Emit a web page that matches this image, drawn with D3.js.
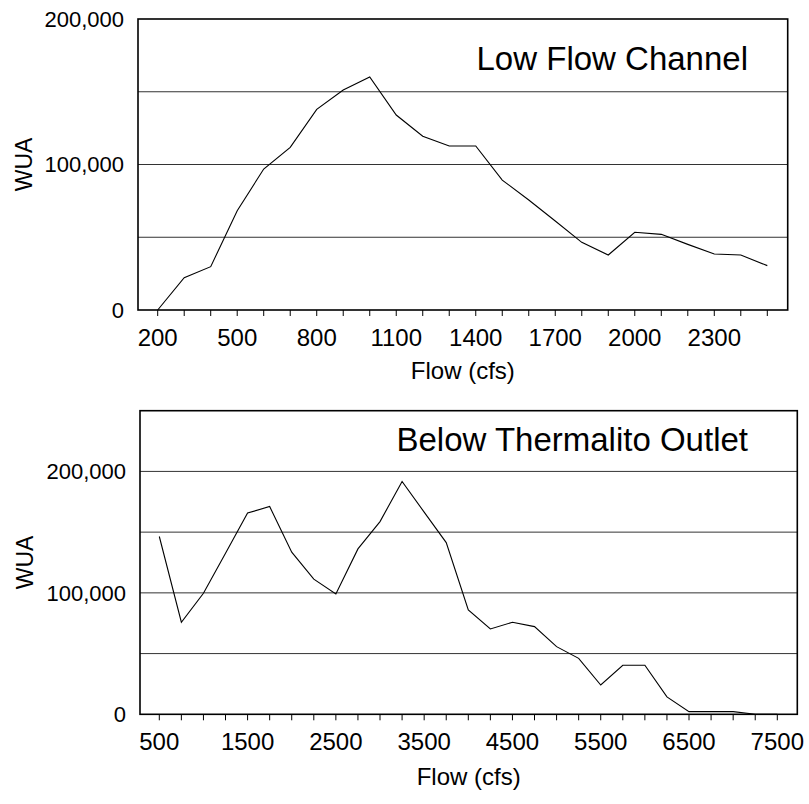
<!DOCTYPE html>
<html>
<head>
<meta charset="utf-8">
<script src="https://cdn.jsdelivr.net/npm/d3@7"></script>
<style>
  html, body { margin: 0; padding: 0; background: #fff; }
  svg { display: block; font-family: "Liberation Sans", Arial, sans-serif; }
</style>
</head>
<body>
<svg id="chart" width="809" height="804"></svg>
<script>
// ---- Data: Low Flow Channel ----
const lowFlow = [200, 300, 400, 500, 600, 700, 800, 900, 1000, 1100, 1200, 1300,
                 1400, 1500, 1600, 1700, 1800, 1900, 2000, 2100, 2200, 2300, 2400, 2500];
const lowWUA  = [0, 22200, 29800, 68200, 96900, 111800, 137900, 151200, 160100, 134000, 119400, 112700,
                 112700, 89300, 75600, 61200, 46500, 37800, 53400, 52000, 45100, 38500, 37800, 30500];
const lowTickLabels = [200, 500, 800, 1100, 1400, 1700, 2000, 2300];
const lowYLabels = [0, 100000, 200000];
const lowGrid = [50000, 100000, 150000];

// ---- Data: Below Thermalito Outlet ----
const btoFlow = [500, 750, 1000, 1250, 1500, 1750, 2000, 2250, 2500, 2750, 3000, 3250,
                 3500, 3750, 4000, 4250, 4500, 4750, 5000, 5250, 5500, 5750, 6000, 6250,
                 6500, 6750, 7000, 7250, 7500];
const btoWUA  = [146400, 75800, 99700, 132700, 165700, 171100, 133500, 111300, 99100, 136200, 158700, 191700,
                 166500, 141400, 86000, 70300, 75800, 72200, 55700, 46100, 24100, 40400, 40400, 14300,
                 2200, 2200, 2200, 0, 0];
const btoTickLabels = [500, 1500, 2500, 3500, 4500, 5500, 6500, 7500];
const btoYLabels = [0, 100000, 200000];
const btoGrid = [50000, 100000, 150000, 200000];

const svg = d3.select("#chart");
const fmt = d3.format(",");

function drawPanel(cfg) {
  const g = svg.append("g");
  const x = d3.scaleLinear().domain(cfg.xDom).range(cfg.xRange);
  const y = d3.scaleLinear().domain(cfg.yDom).range([cfg.bottom, cfg.top]);

  // gridlines
  g.selectAll("line.grid").data(cfg.grid).enter().append("line")
    .attr("x1", cfg.left).attr("x2", cfg.right)
    .attr("y1", d => y(d)).attr("y2", d => y(d))
    .attr("stroke", "#333").attr("stroke-width", 1);

  // data line
  const pts = cfg.xs.map((v, i) => [v, cfg.ys[i]]);
  g.append("path").datum(pts)
    .attr("fill", "none").attr("stroke", "#000").attr("stroke-width", 1.1)
    .attr("d", d3.line().x(d => x(d[0])).y(d => y(d[1])));

  // frame
  g.append("rect")
    .attr("x", cfg.left).attr("y", cfg.top)
    .attr("width", cfg.right - cfg.left).attr("height", cfg.bottom - cfg.top)
    .attr("fill", "none").attr("stroke", "#000").attr("stroke-width", 1.6);

  // x ticks
  const ticks = d3.range(cfg.xDom[0], cfg.xDom[1] + 1, cfg.tickStep);
  g.selectAll("line.xt").data(ticks).enter().append("line")
    .attr("x1", d => x(d)).attr("x2", d => x(d))
    .attr("y1", cfg.bottom).attr("y2", cfg.bottom + 6)
    .attr("stroke", "#000").attr("stroke-width", 1);

  // x labels
  g.selectAll("text.xl").data(cfg.xLabels).enter().append("text")
    .attr("x", d => x(d)).attr("y", cfg.bottom + 36)
    .attr("text-anchor", "middle").attr("font-size", 24).attr("fill", "#000")
    .text(d => d);

  // y labels
  g.selectAll("text.yl").data(cfg.yLabels).enter().append("text")
    .attr("x", cfg.left - 14).attr("y", d => y(d)).attr("dy", "0.36em")
    .attr("text-anchor", "end").attr("font-size", 22).attr("fill", "#000")
    .text(d => fmt(d));

  // axis titles
  g.append("text")
    .attr("x", (cfg.left + cfg.right) / 2).attr("y", cfg.bottom + cfg.xTitleOff)
    .attr("text-anchor", "middle").attr("font-size", 24).attr("fill", "#000")
    .text("Flow (cfs)");
  g.append("text")
    .attr("transform", `translate(${cfg.yTitleX},${(cfg.top + cfg.bottom) / 2}) rotate(-90)`)
    .attr("text-anchor", "middle").attr("font-size", 23).attr("fill", "#000")
    .text("WUA");

  // panel title
  g.append("text")
    .attr("x", 748).attr("y", cfg.titleY)
    .attr("text-anchor", "end").attr("font-size", 33).attr("fill", "#000")
    .text(cfg.title);
}

drawPanel({
  xs: lowFlow, ys: lowWUA,
  xDom: [200, 2500], xRange: [157.7, 767.3], tickStep: 100,
  yDom: [0, 200000],
  left: 138, right: 787.7, top: 19, bottom: 310,
  grid: lowGrid, xLabels: lowTickLabels, yLabels: lowYLabels,
  xTitleOff: 68.5, yTitleX: 31.7, titleY: 70,
  title: "Low Flow Channel"
});

drawPanel({
  xs: btoFlow, ys: btoWUA,
  xDom: [500, 7500], xRange: [159.3, 777.3], tickStep: 250,
  yDom: [0, 250000],
  left: 140, right: 797.3, top: 410.7, bottom: 714.3,
  grid: btoGrid, xLabels: btoTickLabels, yLabels: btoYLabels,
  xTitleOff: 71, yTitleX: 33.3, titleY: 450.7,
  title: "Below Thermalito Outlet"
});
</script>
</body>
</html>
